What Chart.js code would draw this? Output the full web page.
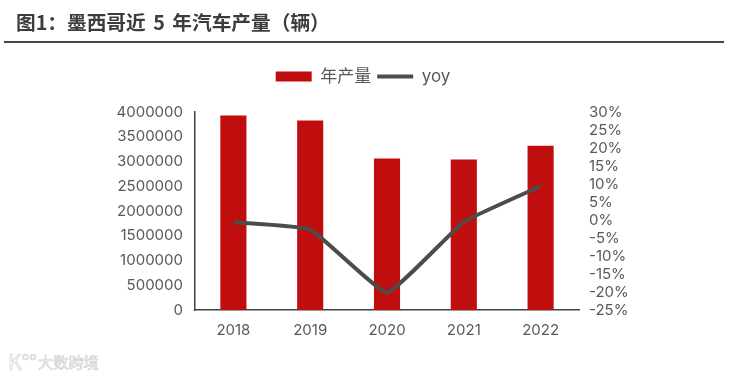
<!DOCTYPE html>
<html lang="zh">
<head>
<meta charset="utf-8">
<script src="https://cdn.jsdelivr.net/npm/chart.js@4"></script>
<style>
  html, body { margin: 0; background: #fff; }
  #page { position: relative; width: 753px; height: 376px; overflow: hidden; }
  #title {
    position: absolute; left: 16px; top: 7px; word-spacing: 3px;
    font: bold 19.7px "Noto Sans CJK SC", sans-serif; color: #3c3c3c; white-space: pre;
  }
  #rule { position: absolute; left: 4px; top: 41px; width: 720px; height: 2px; background: #474747; }
  .mark {
    position: absolute; color: #fff; -webkit-text-stroke: 0.6px #c9c9c9; white-space: pre;
    font-family: "Noto Sans CJK SC", sans-serif;
  }
  #logo { left: 8px; top: 346px; font-size: 21px; }
  #brand { left: 38px; top: 350px; font-size: 15.2px; }
  canvas { position: absolute; left: 0; top: 0; }
</style>
</head>
<body>
<div id="page">
  <canvas id="chart" width="753" height="376"></canvas>
  <div id="title">图1：墨西哥近 5 年汽车产量（辆）</div>
  <div id="rule"></div>
  <div id="logo" class="mark">K°°</div>
  <div id="brand" class="mark">大数跨境</div>
</div>
<script>
const years = ["2018", "2019", "2020", "2021", "2022"];
const annualOutput = [3930000, 3830000, 3060000, 3040000, 3320000];
const yoyPercent = [-0.6, -2.6, -20.2, -0.5, 9.4];

const textColor = "#595959";
const tickFont = { family: "Inter", size: 15 };

// leaves room between the legend and the plot
const legendGap = {
  id: "legendGap",
  beforeInit(chart) {
    const fit = chart.legend.fit;
    chart.legend.fit = function () {
      fit.call(this);
      this.height += 17;
    };
  },
};

new Chart(document.getElementById("chart"), {
  plugins: [legendGap],
  data: {
    labels: years,
    datasets: [
      {
        type: "bar",
        label: "年产量",
        data: annualOutput,
        yAxisID: "y",
        backgroundColor: "#c00d0d",
        barPercentage: 0.34,
        categoryPercentage: 1,
        pointStyle: "rect",
        order: 2,
      },
      {
        type: "line",
        label: "yoy",
        data: yoyPercent,
        yAxisID: "y1",
        borderColor: "#4f4b4b",
        borderWidth: 4,
        tension: 0.1,
        pointRadius: 0,
        pointStyle: "line",
        order: 1,
      },
    ],
  },
  options: {
    responsive: false,
    animation: false,
    layout: { padding: { top: 62, left: 0, right: 27, bottom: 0 } },
    plugins: {
      tooltip: { enabled: false },
      legend: {
        position: "top",
        labels: {
          usePointStyle: true,
          pointStyleWidth: 36,
          boxHeight: 10,
          padding: 6,
          color: textColor,
          font: { family: "Inter, Noto Sans CJK SC", size: 17 },
          sort: (a, b) => a.datasetIndex - b.datasetIndex,
        },
      },
    },
    scales: {
      x: {
        grid: { display: false, drawTicks: false },
        border: { color: "#404040", width: 1.5 },
        ticks: { color: textColor, font: tickFont, padding: 11 },
        afterFit: (axis) => { axis.height = 66; },
      },
      y: {
        position: "left",
        min: 0,
        max: 4000000,
        grid: { display: false, drawTicks: false },
        border: { color: "#404040", width: 1.5 },
        ticks: {
          stepSize: 500000,
          autoSkip: false,
          color: textColor,
          font: tickFont,
          padding: 12,
          callback: (value) => String(value),
        },
        afterFit: (axis) => { axis.width = 195; },
      },
      y1: {
        position: "right",
        min: -25,
        max: 30,
        grid: { display: false, drawTicks: false },
        border: { display: false },
        ticks: {
          stepSize: 5,
          autoSkip: false,
          color: textColor,
          font: tickFont,
          padding: 10,
          callback: (value) => value + "%",
        },
        afterFit: (axis) => { axis.width = 147; },
      },
    },
  },
});
</script>
</body>
</html>
